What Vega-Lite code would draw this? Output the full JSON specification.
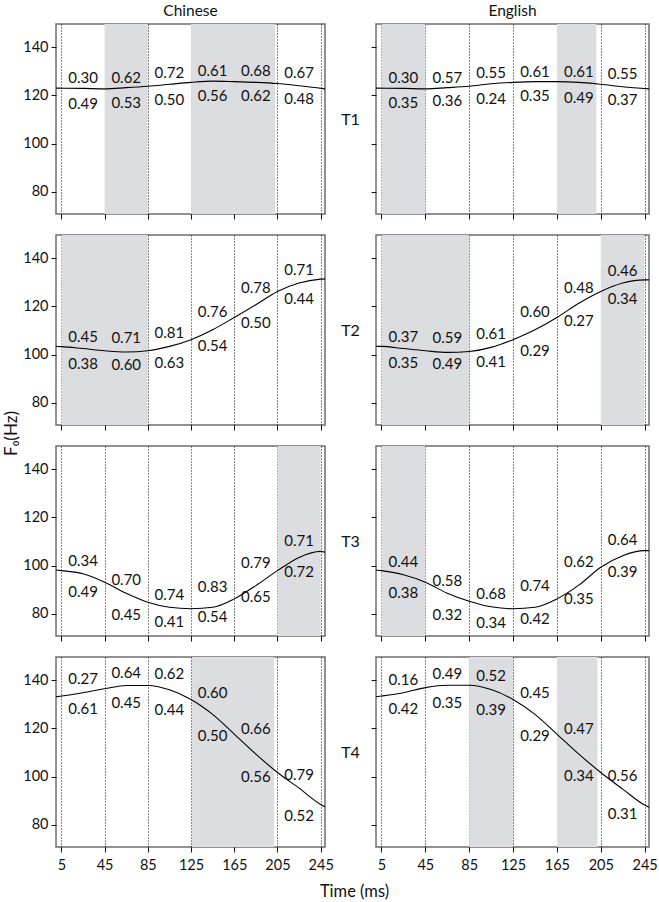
{
  "$schema": "https://vega.github.io/schema/vega-lite/v6.json",
  "padding": {"left": 1, "top": 2, "right": 0, "bottom": 0},
  "datasets": {
    "all": [
      {"kind":"c","lang":"Chinese","tone":"T1","t":0,"f0":123.0},
      {"kind":"c","lang":"Chinese","tone":"T1","t":25,"f0":122.9},
      {"kind":"c","lang":"Chinese","tone":"T1","t":45,"f0":122.7},
      {"kind":"c","lang":"Chinese","tone":"T1","t":65,"f0":123.2},
      {"kind":"c","lang":"Chinese","tone":"T1","t":85,"f0":123.8},
      {"kind":"c","lang":"Chinese","tone":"T1","t":105,"f0":124.6},
      {"kind":"c","lang":"Chinese","tone":"T1","t":125,"f0":125.4},
      {"kind":"c","lang":"Chinese","tone":"T1","t":145,"f0":125.9},
      {"kind":"c","lang":"Chinese","tone":"T1","t":165,"f0":125.7},
      {"kind":"c","lang":"Chinese","tone":"T1","t":185,"f0":125.4},
      {"kind":"c","lang":"Chinese","tone":"T1","t":205,"f0":124.9},
      {"kind":"c","lang":"Chinese","tone":"T1","t":225,"f0":124.0},
      {"kind":"c","lang":"Chinese","tone":"T1","t":249,"f0":122.7},

      {"kind":"c","lang":"English","tone":"T1","t":0,"f0":123.0},
      {"kind":"c","lang":"English","tone":"T1","t":25,"f0":122.9},
      {"kind":"c","lang":"English","tone":"T1","t":45,"f0":122.7},
      {"kind":"c","lang":"English","tone":"T1","t":65,"f0":123.2},
      {"kind":"c","lang":"English","tone":"T1","t":85,"f0":123.8},
      {"kind":"c","lang":"English","tone":"T1","t":105,"f0":124.8},
      {"kind":"c","lang":"English","tone":"T1","t":125,"f0":125.4},
      {"kind":"c","lang":"English","tone":"T1","t":145,"f0":125.7},
      {"kind":"c","lang":"English","tone":"T1","t":165,"f0":125.7},
      {"kind":"c","lang":"English","tone":"T1","t":185,"f0":125.4},
      {"kind":"c","lang":"English","tone":"T1","t":205,"f0":124.6},
      {"kind":"c","lang":"English","tone":"T1","t":225,"f0":123.6},
      {"kind":"c","lang":"English","tone":"T1","t":249,"f0":122.7},

      {"kind":"c","lang":"Chinese","tone":"T2","t":0,"f0":103.4},
      {"kind":"c","lang":"Chinese","tone":"T2","t":5,"f0":103.3},
      {"kind":"c","lang":"Chinese","tone":"T2","t":25,"f0":102.5},
      {"kind":"c","lang":"Chinese","tone":"T2","t":45,"f0":101.6},
      {"kind":"c","lang":"Chinese","tone":"T2","t":65,"f0":101.1},
      {"kind":"c","lang":"Chinese","tone":"T2","t":85,"f0":101.6},
      {"kind":"c","lang":"Chinese","tone":"T2","t":105,"f0":103.4},
      {"kind":"c","lang":"Chinese","tone":"T2","t":125,"f0":106.2},
      {"kind":"c","lang":"Chinese","tone":"T2","t":145,"f0":110.3},
      {"kind":"c","lang":"Chinese","tone":"T2","t":165,"f0":115.4},
      {"kind":"c","lang":"Chinese","tone":"T2","t":185,"f0":120.7},
      {"kind":"c","lang":"Chinese","tone":"T2","t":205,"f0":126.2},
      {"kind":"c","lang":"Chinese","tone":"T2","t":225,"f0":129.7},
      {"kind":"c","lang":"Chinese","tone":"T2","t":245,"f0":131.3},
      {"kind":"c","lang":"Chinese","tone":"T2","t":249,"f0":131.4},

      {"kind":"c","lang":"English","tone":"T2","t":0,"f0":103.4},
      {"kind":"c","lang":"English","tone":"T2","t":5,"f0":103.4},
      {"kind":"c","lang":"English","tone":"T2","t":25,"f0":102.5},
      {"kind":"c","lang":"English","tone":"T2","t":45,"f0":101.6},
      {"kind":"c","lang":"English","tone":"T2","t":65,"f0":100.9},
      {"kind":"c","lang":"English","tone":"T2","t":85,"f0":101.3},
      {"kind":"c","lang":"English","tone":"T2","t":105,"f0":103.0},
      {"kind":"c","lang":"English","tone":"T2","t":125,"f0":106.2},
      {"kind":"c","lang":"English","tone":"T2","t":145,"f0":110.3},
      {"kind":"c","lang":"English","tone":"T2","t":165,"f0":115.4},
      {"kind":"c","lang":"English","tone":"T2","t":185,"f0":121.3},
      {"kind":"c","lang":"English","tone":"T2","t":205,"f0":126.2},
      {"kind":"c","lang":"English","tone":"T2","t":225,"f0":129.7},
      {"kind":"c","lang":"English","tone":"T2","t":245,"f0":131.0},
      {"kind":"c","lang":"English","tone":"T2","t":249,"f0":131.0},

      {"kind":"c","lang":"Chinese","tone":"T3","t":0,"f0":98.2},
      {"kind":"c","lang":"Chinese","tone":"T3","t":5,"f0":97.9},
      {"kind":"c","lang":"Chinese","tone":"T3","t":25,"f0":96.6},
      {"kind":"c","lang":"Chinese","tone":"T3","t":45,"f0":93.1},
      {"kind":"c","lang":"Chinese","tone":"T3","t":65,"f0":88.5},
      {"kind":"c","lang":"Chinese","tone":"T3","t":85,"f0":84.8},
      {"kind":"c","lang":"Chinese","tone":"T3","t":105,"f0":82.7},
      {"kind":"c","lang":"Chinese","tone":"T3","t":125,"f0":82.1},
      {"kind":"c","lang":"Chinese","tone":"T3","t":145,"f0":82.7},
      {"kind":"c","lang":"Chinese","tone":"T3","t":165,"f0":86.2},
      {"kind":"c","lang":"Chinese","tone":"T3","t":185,"f0":91.7},
      {"kind":"c","lang":"Chinese","tone":"T3","t":205,"f0":97.9},
      {"kind":"c","lang":"Chinese","tone":"T3","t":225,"f0":103.4},
      {"kind":"c","lang":"Chinese","tone":"T3","t":245,"f0":105.9},
      {"kind":"c","lang":"Chinese","tone":"T3","t":249,"f0":105.5},

      {"kind":"c","lang":"English","tone":"T3","t":0,"f0":98.2},
      {"kind":"c","lang":"English","tone":"T3","t":5,"f0":97.9},
      {"kind":"c","lang":"English","tone":"T3","t":25,"f0":96.2},
      {"kind":"c","lang":"English","tone":"T3","t":45,"f0":93.1},
      {"kind":"c","lang":"English","tone":"T3","t":65,"f0":88.5},
      {"kind":"c","lang":"English","tone":"T3","t":85,"f0":85.2},
      {"kind":"c","lang":"English","tone":"T3","t":105,"f0":82.9},
      {"kind":"c","lang":"English","tone":"T3","t":125,"f0":82.1},
      {"kind":"c","lang":"English","tone":"T3","t":145,"f0":82.7},
      {"kind":"c","lang":"English","tone":"T3","t":165,"f0":86.2},
      {"kind":"c","lang":"English","tone":"T3","t":185,"f0":91.9},
      {"kind":"c","lang":"English","tone":"T3","t":205,"f0":99.3},
      {"kind":"c","lang":"English","tone":"T3","t":225,"f0":104.1},
      {"kind":"c","lang":"English","tone":"T3","t":245,"f0":106.2},
      {"kind":"c","lang":"English","tone":"T3","t":249,"f0":106.2},

      {"kind":"c","lang":"Chinese","tone":"T4","t":0,"f0":133.1},
      {"kind":"c","lang":"Chinese","tone":"T4","t":5,"f0":133.4},
      {"kind":"c","lang":"Chinese","tone":"T4","t":25,"f0":134.8},
      {"kind":"c","lang":"Chinese","tone":"T4","t":45,"f0":136.4},
      {"kind":"c","lang":"Chinese","tone":"T4","t":65,"f0":137.8},
      {"kind":"c","lang":"Chinese","tone":"T4","t":85,"f0":137.8},
      {"kind":"c","lang":"Chinese","tone":"T4","t":105,"f0":136.0},
      {"kind":"c","lang":"Chinese","tone":"T4","t":125,"f0":132.0},
      {"kind":"c","lang":"Chinese","tone":"T4","t":145,"f0":125.8},
      {"kind":"c","lang":"Chinese","tone":"T4","t":165,"f0":117.6},
      {"kind":"c","lang":"Chinese","tone":"T4","t":185,"f0":109.3},
      {"kind":"c","lang":"Chinese","tone":"T4","t":205,"f0":101.7},
      {"kind":"c","lang":"Chinese","tone":"T4","t":225,"f0":95.2},
      {"kind":"c","lang":"Chinese","tone":"T4","t":245,"f0":88.4},
      {"kind":"c","lang":"Chinese","tone":"T4","t":249,"f0":87.4},

      {"kind":"c","lang":"English","tone":"T4","t":0,"f0":133.1},
      {"kind":"c","lang":"English","tone":"T4","t":5,"f0":133.4},
      {"kind":"c","lang":"English","tone":"T4","t":25,"f0":134.8},
      {"kind":"c","lang":"English","tone":"T4","t":45,"f0":136.9},
      {"kind":"c","lang":"English","tone":"T4","t":65,"f0":137.9},
      {"kind":"c","lang":"English","tone":"T4","t":85,"f0":137.9},
      {"kind":"c","lang":"English","tone":"T4","t":105,"f0":136.1},
      {"kind":"c","lang":"English","tone":"T4","t":125,"f0":132.0},
      {"kind":"c","lang":"English","tone":"T4","t":145,"f0":125.8},
      {"kind":"c","lang":"English","tone":"T4","t":165,"f0":117.6},
      {"kind":"c","lang":"English","tone":"T4","t":185,"f0":109.3},
      {"kind":"c","lang":"English","tone":"T4","t":205,"f0":101.7},
      {"kind":"c","lang":"English","tone":"T4","t":225,"f0":94.8},
      {"kind":"c","lang":"English","tone":"T4","t":245,"f0":88.2},
      {"kind":"c","lang":"English","tone":"T4","t":249,"f0":87.3},

      {"kind":"l","lang":"Chinese","tone":"T1","t":25,"f0":127.4,"label":"0.30"},
      {"kind":"l","lang":"Chinese","tone":"T1","t":65,"f0":127.4,"label":"0.62"},
      {"kind":"l","lang":"Chinese","tone":"T1","t":105,"f0":129.3,"label":"0.72"},
      {"kind":"l","lang":"Chinese","tone":"T1","t":145,"f0":130.3,"label":"0.61"},
      {"kind":"l","lang":"Chinese","tone":"T1","t":185,"f0":130.3,"label":"0.68"},
      {"kind":"l","lang":"Chinese","tone":"T1","t":225,"f0":129.3,"label":"0.67"},
      {"kind":"l","lang":"Chinese","tone":"T1","t":25,"f0":116.3,"label":"0.49"},
      {"kind":"l","lang":"Chinese","tone":"T1","t":65,"f0":116.7,"label":"0.53"},
      {"kind":"l","lang":"Chinese","tone":"T1","t":105,"f0":118.2,"label":"0.50"},
      {"kind":"l","lang":"Chinese","tone":"T1","t":145,"f0":119.9,"label":"0.56"},
      {"kind":"l","lang":"Chinese","tone":"T1","t":185,"f0":119.6,"label":"0.62"},
      {"kind":"l","lang":"Chinese","tone":"T1","t":225,"f0":118.5,"label":"0.48"},

      {"kind":"l","lang":"English","tone":"T1","t":25,"f0":127.2,"label":"0.30"},
      {"kind":"l","lang":"English","tone":"T1","t":65,"f0":127.2,"label":"0.57"},
      {"kind":"l","lang":"English","tone":"T1","t":105,"f0":129.3,"label":"0.55"},
      {"kind":"l","lang":"English","tone":"T1","t":145,"f0":129.9,"label":"0.61"},
      {"kind":"l","lang":"English","tone":"T1","t":185,"f0":129.6,"label":"0.61"},
      {"kind":"l","lang":"English","tone":"T1","t":225,"f0":129.0,"label":"0.55"},
      {"kind":"l","lang":"English","tone":"T1","t":25,"f0":116.9,"label":"0.35"},
      {"kind":"l","lang":"English","tone":"T1","t":65,"f0":117.8,"label":"0.36"},
      {"kind":"l","lang":"English","tone":"T1","t":105,"f0":118.5,"label":"0.24"},
      {"kind":"l","lang":"English","tone":"T1","t":145,"f0":119.9,"label":"0.35"},
      {"kind":"l","lang":"English","tone":"T1","t":185,"f0":118.9,"label":"0.49"},
      {"kind":"l","lang":"English","tone":"T1","t":225,"f0":118.2,"label":"0.37"},

      {"kind":"l","lang":"Chinese","tone":"T2","t":25,"f0":107.3,"label":"0.45"},
      {"kind":"l","lang":"Chinese","tone":"T2","t":65,"f0":106.9,"label":"0.71"},
      {"kind":"l","lang":"Chinese","tone":"T2","t":105,"f0":109.0,"label":"0.81"},
      {"kind":"l","lang":"Chinese","tone":"T2","t":145,"f0":117.5,"label":"0.76"},
      {"kind":"l","lang":"Chinese","tone":"T2","t":185,"f0":127.6,"label":"0.78"},
      {"kind":"l","lang":"Chinese","tone":"T2","t":225,"f0":134.9,"label":"0.71"},
      {"kind":"l","lang":"Chinese","tone":"T2","t":25,"f0":95.9,"label":"0.38"},
      {"kind":"l","lang":"Chinese","tone":"T2","t":65,"f0":95.6,"label":"0.60"},
      {"kind":"l","lang":"Chinese","tone":"T2","t":105,"f0":96.6,"label":"0.63"},
      {"kind":"l","lang":"Chinese","tone":"T2","t":145,"f0":103.7,"label":"0.54"},
      {"kind":"l","lang":"Chinese","tone":"T2","t":185,"f0":113.1,"label":"0.50"},
      {"kind":"l","lang":"Chinese","tone":"T2","t":225,"f0":123.2,"label":"0.44"},

      {"kind":"l","lang":"English","tone":"T2","t":25,"f0":107.3,"label":"0.37"},
      {"kind":"l","lang":"English","tone":"T2","t":65,"f0":106.7,"label":"0.59"},
      {"kind":"l","lang":"English","tone":"T2","t":105,"f0":108.7,"label":"0.61"},
      {"kind":"l","lang":"English","tone":"T2","t":145,"f0":117.7,"label":"0.60"},
      {"kind":"l","lang":"English","tone":"T2","t":185,"f0":127.6,"label":"0.48"},
      {"kind":"l","lang":"English","tone":"T2","t":225,"f0":134.7,"label":"0.46"},
      {"kind":"l","lang":"English","tone":"T2","t":25,"f0":96.6,"label":"0.35"},
      {"kind":"l","lang":"English","tone":"T2","t":65,"f0":95.9,"label":"0.49"},
      {"kind":"l","lang":"English","tone":"T2","t":105,"f0":96.8,"label":"0.41"},
      {"kind":"l","lang":"English","tone":"T2","t":145,"f0":101.4,"label":"0.29"},
      {"kind":"l","lang":"English","tone":"T2","t":185,"f0":113.8,"label":"0.27"},
      {"kind":"l","lang":"English","tone":"T2","t":225,"f0":123.2,"label":"0.34"},

      {"kind":"l","lang":"Chinese","tone":"T3","t":25,"f0":102.1,"label":"0.34"},
      {"kind":"l","lang":"Chinese","tone":"T3","t":65,"f0":94.1,"label":"0.70"},
      {"kind":"l","lang":"Chinese","tone":"T3","t":105,"f0":88.0,"label":"0.74"},
      {"kind":"l","lang":"Chinese","tone":"T3","t":145,"f0":91.3,"label":"0.83"},
      {"kind":"l","lang":"Chinese","tone":"T3","t":185,"f0":100.9,"label":"0.79"},
      {"kind":"l","lang":"Chinese","tone":"T3","t":225,"f0":110.3,"label":"0.71"},
      {"kind":"l","lang":"Chinese","tone":"T3","t":25,"f0":89.0,"label":"0.49"},
      {"kind":"l","lang":"Chinese","tone":"T3","t":65,"f0":79.7,"label":"0.45"},
      {"kind":"l","lang":"Chinese","tone":"T3","t":105,"f0":76.5,"label":"0.41"},
      {"kind":"l","lang":"Chinese","tone":"T3","t":145,"f0":78.6,"label":"0.54"},
      {"kind":"l","lang":"Chinese","tone":"T3","t":185,"f0":86.9,"label":"0.65"},
      {"kind":"l","lang":"Chinese","tone":"T3","t":225,"f0":97.2,"label":"0.72"},

      {"kind":"l","lang":"English","tone":"T3","t":25,"f0":101.4,"label":"0.44"},
      {"kind":"l","lang":"English","tone":"T3","t":65,"f0":93.8,"label":"0.58"},
      {"kind":"l","lang":"English","tone":"T3","t":105,"f0":88.3,"label":"0.68"},
      {"kind":"l","lang":"English","tone":"T3","t":145,"f0":91.4,"label":"0.74"},
      {"kind":"l","lang":"English","tone":"T3","t":185,"f0":101.4,"label":"0.62"},
      {"kind":"l","lang":"English","tone":"T3","t":225,"f0":110.6,"label":"0.64"},
      {"kind":"l","lang":"English","tone":"T3","t":25,"f0":88.7,"label":"0.38"},
      {"kind":"l","lang":"English","tone":"T3","t":65,"f0":79.7,"label":"0.32"},
      {"kind":"l","lang":"English","tone":"T3","t":105,"f0":76.3,"label":"0.34"},
      {"kind":"l","lang":"English","tone":"T3","t":145,"f0":77.9,"label":"0.42"},
      {"kind":"l","lang":"English","tone":"T3","t":185,"f0":86.2,"label":"0.35"},
      {"kind":"l","lang":"English","tone":"T3","t":225,"f0":97.2,"label":"0.39"},

      {"kind":"l","lang":"Chinese","tone":"T4","t":25,"f0":140.3,"label":"0.27"},
      {"kind":"l","lang":"Chinese","tone":"T4","t":65,"f0":143.0,"label":"0.64"},
      {"kind":"l","lang":"Chinese","tone":"T4","t":105,"f0":142.4,"label":"0.62"},
      {"kind":"l","lang":"Chinese","tone":"T4","t":145,"f0":134.8,"label":"0.60"},
      {"kind":"l","lang":"Chinese","tone":"T4","t":185,"f0":119.6,"label":"0.66"},
      {"kind":"l","lang":"Chinese","tone":"T4","t":225,"f0":100.6,"label":"0.79"},
      {"kind":"l","lang":"Chinese","tone":"T4","t":25,"f0":128.2,"label":"0.61"},
      {"kind":"l","lang":"Chinese","tone":"T4","t":65,"f0":130.7,"label":"0.45"},
      {"kind":"l","lang":"Chinese","tone":"T4","t":105,"f0":127.5,"label":"0.44"},
      {"kind":"l","lang":"Chinese","tone":"T4","t":145,"f0":116.9,"label":"0.50"},
      {"kind":"l","lang":"Chinese","tone":"T4","t":185,"f0":99.7,"label":"0.56"},
      {"kind":"l","lang":"Chinese","tone":"T4","t":225,"f0":83.8,"label":"0.52"},

      {"kind":"l","lang":"English","tone":"T4","t":25,"f0":140.0,"label":"0.16"},
      {"kind":"l","lang":"English","tone":"T4","t":65,"f0":142.6,"label":"0.49"},
      {"kind":"l","lang":"English","tone":"T4","t":105,"f0":141.7,"label":"0.52"},
      {"kind":"l","lang":"English","tone":"T4","t":145,"f0":134.8,"label":"0.45"},
      {"kind":"l","lang":"English","tone":"T4","t":185,"f0":119.6,"label":"0.47"},
      {"kind":"l","lang":"English","tone":"T4","t":225,"f0":100.3,"label":"0.56"},
      {"kind":"l","lang":"English","tone":"T4","t":25,"f0":127.9,"label":"0.42"},
      {"kind":"l","lang":"English","tone":"T4","t":65,"f0":130.7,"label":"0.35"},
      {"kind":"l","lang":"English","tone":"T4","t":105,"f0":127.6,"label":"0.39"},
      {"kind":"l","lang":"English","tone":"T4","t":145,"f0":116.9,"label":"0.29"},
      {"kind":"l","lang":"English","tone":"T4","t":185,"f0":100.1,"label":"0.34"},
      {"kind":"l","lang":"English","tone":"T4","t":225,"f0":84.5,"label":"0.31"},

      {"kind":"s","lang":"Chinese","tone":"T1","t":45,"t2":85},
      {"kind":"s","lang":"Chinese","tone":"T1","t":125,"t2":203},
      {"kind":"s","lang":"English","tone":"T1","t":5,"t2":45},
      {"kind":"s","lang":"English","tone":"T1","t":165,"t2":201},
      {"kind":"s","lang":"Chinese","tone":"T2","t":5,"t2":85},
      {"kind":"s","lang":"English","tone":"T2","t":5,"t2":85},
      {"kind":"s","lang":"English","tone":"T2","t":205,"t2":245},
      {"kind":"s","lang":"Chinese","tone":"T3","t":205,"t2":245},
      {"kind":"s","lang":"English","tone":"T3","t":5,"t2":45},
      {"kind":"s","lang":"Chinese","tone":"T4","t":126,"t2":202},
      {"kind":"s","lang":"English","tone":"T4","t":85,"t2":125},
      {"kind":"s","lang":"English","tone":"T4","t":165,"t2":202}
    ]
  },
  "data": {"name": "all"},
  "columns": 2,
  "spacing": {"row": 21, "column": 51},
  "bounds": "flush",
  "concat": [
    {
      "width": 269, "height": 190,
      "title": {"text": "Chinese"},
      "transform": [{"filter": "datum.lang === 'Chinese' && datum.tone === 'T1'"}],
      "encoding": {"x": {"field": "t", "type": "quantitative", "scale": {"domain": [0, 249], "nice": false, "zero": false}, "axis": {"values": [5,45,85,125,165,205,245], "labels": false, "title": null}}},
      "layer": [
        {"transform": [{"filter": "datum.kind === 's'"}], "mark": {"type": "rect", "fill": "#dcdde0"}, "encoding": {"x2": {"field": "t2"}}},
        {"transform": [{"filter": "datum.kind === 'c'"}], "mark": {"type": "line", "color": "black", "strokeWidth": 1.1, "interpolate": "monotone"}, "encoding": {"y": {"field": "f0", "type": "quantitative", "scale": {"domain": [70.8, 149.6], "nice": false, "zero": false}, "axis": {"values": [80,100,120,140], "title": null}}}},
        {"transform": [{"filter": "datum.kind === 'l'"}], "mark": {"type": "text", "fontSize": 15, "color": "#111"}, "encoding": {"y": {"field": "f0", "type": "quantitative"}, "text": {"field": "label"}}}
      ]
    },
    {
      "width": 273, "height": 190,
      "title": {"text": "English"},
      "transform": [{"filter": "datum.lang === 'English' && datum.tone === 'T1'"}],
      "encoding": {"x": {"field": "t", "type": "quantitative", "scale": {"domain": [0, 249], "nice": false, "zero": false}, "axis": {"values": [5,45,85,125,165,205,245], "labels": false, "title": null}}},
      "layer": [
        {"transform": [{"filter": "datum.kind === 's'"}], "mark": {"type": "rect", "fill": "#dcdde0"}, "encoding": {"x2": {"field": "t2"}}},
        {"transform": [{"filter": "datum.kind === 'c'"}], "mark": {"type": "line", "color": "black", "strokeWidth": 1.1, "interpolate": "monotone"}, "encoding": {"y": {"field": "f0", "type": "quantitative", "scale": {"domain": [70.8, 149.6], "nice": false, "zero": false}, "axis": {"values": [80,100,120,140], "labels": false, "title": "T1", "titleFontSize": 16, "titleAngle": 0, "titleX": -26, "titleY": 95, "titleAlign": "center", "titleBaseline": "middle"}}}},
        {"transform": [{"filter": "datum.kind === 'l'"}], "mark": {"type": "text", "fontSize": 15, "color": "#111"}, "encoding": {"y": {"field": "f0", "type": "quantitative"}, "text": {"field": "label"}}}
      ]
    },
    {
      "width": 269, "height": 190,
      "transform": [{"filter": "datum.lang === 'Chinese' && datum.tone === 'T2'"}],
      "encoding": {"x": {"field": "t", "type": "quantitative", "scale": {"domain": [0, 249], "nice": false, "zero": false}, "axis": {"values": [5,45,85,125,165,205,245], "labels": false, "title": null}}},
      "layer": [
        {"transform": [{"filter": "datum.kind === 's'"}], "mark": {"type": "rect", "fill": "#dcdde0"}, "encoding": {"x2": {"field": "t2"}}},
        {"transform": [{"filter": "datum.kind === 'c'"}], "mark": {"type": "line", "color": "black", "strokeWidth": 1.1, "interpolate": "monotone"}, "encoding": {"y": {"field": "f0", "type": "quantitative", "scale": {"domain": [70.8, 149.6], "nice": false, "zero": false}, "axis": {"values": [80,100,120,140], "title": "F₀(Hz)", "titleFontSize": 17, "titleX": -45, "titleY": 198, "titleAlign": "center", "titleBaseline": "middle"}}}},
        {"transform": [{"filter": "datum.kind === 'l'"}], "mark": {"type": "text", "fontSize": 15, "color": "#111"}, "encoding": {"y": {"field": "f0", "type": "quantitative"}, "text": {"field": "label"}}}
      ]
    },
    {
      "width": 273, "height": 190,
      "transform": [{"filter": "datum.lang === 'English' && datum.tone === 'T2'"}],
      "encoding": {"x": {"field": "t", "type": "quantitative", "scale": {"domain": [0, 249], "nice": false, "zero": false}, "axis": {"values": [5,45,85,125,165,205,245], "labels": false, "title": null}}},
      "layer": [
        {"transform": [{"filter": "datum.kind === 's'"}], "mark": {"type": "rect", "fill": "#dcdde0"}, "encoding": {"x2": {"field": "t2"}}},
        {"transform": [{"filter": "datum.kind === 'c'"}], "mark": {"type": "line", "color": "black", "strokeWidth": 1.1, "interpolate": "monotone"}, "encoding": {"y": {"field": "f0", "type": "quantitative", "scale": {"domain": [70.8, 149.6], "nice": false, "zero": false}, "axis": {"values": [80,100,120,140], "labels": false, "title": "T2", "titleFontSize": 16, "titleAngle": 0, "titleX": -26, "titleY": 95, "titleAlign": "center", "titleBaseline": "middle"}}}},
        {"transform": [{"filter": "datum.kind === 'l'"}], "mark": {"type": "text", "fontSize": 15, "color": "#111"}, "encoding": {"y": {"field": "f0", "type": "quantitative"}, "text": {"field": "label"}}}
      ]
    },
    {
      "width": 269, "height": 190,
      "transform": [{"filter": "datum.lang === 'Chinese' && datum.tone === 'T3'"}],
      "encoding": {"x": {"field": "t", "type": "quantitative", "scale": {"domain": [0, 249], "nice": false, "zero": false}, "axis": {"values": [5,45,85,125,165,205,245], "labels": false, "title": null}}},
      "layer": [
        {"transform": [{"filter": "datum.kind === 's'"}], "mark": {"type": "rect", "fill": "#dcdde0"}, "encoding": {"x2": {"field": "t2"}}},
        {"transform": [{"filter": "datum.kind === 'c'"}], "mark": {"type": "line", "color": "black", "strokeWidth": 1.1, "interpolate": "monotone"}, "encoding": {"y": {"field": "f0", "type": "quantitative", "scale": {"domain": [70.8, 149.6], "nice": false, "zero": false}, "axis": {"values": [80,100,120,140], "title": null}}}},
        {"transform": [{"filter": "datum.kind === 'l'"}], "mark": {"type": "text", "fontSize": 15, "color": "#111"}, "encoding": {"y": {"field": "f0", "type": "quantitative"}, "text": {"field": "label"}}}
      ]
    },
    {
      "width": 273, "height": 190,
      "transform": [{"filter": "datum.lang === 'English' && datum.tone === 'T3'"}],
      "encoding": {"x": {"field": "t", "type": "quantitative", "scale": {"domain": [0, 249], "nice": false, "zero": false}, "axis": {"values": [5,45,85,125,165,205,245], "labels": false, "title": null}}},
      "layer": [
        {"transform": [{"filter": "datum.kind === 's'"}], "mark": {"type": "rect", "fill": "#dcdde0"}, "encoding": {"x2": {"field": "t2"}}},
        {"transform": [{"filter": "datum.kind === 'c'"}], "mark": {"type": "line", "color": "black", "strokeWidth": 1.1, "interpolate": "monotone"}, "encoding": {"y": {"field": "f0", "type": "quantitative", "scale": {"domain": [70.8, 149.6], "nice": false, "zero": false}, "axis": {"values": [80,100,120,140], "labels": false, "title": "T3", "titleFontSize": 16, "titleAngle": 0, "titleX": -26, "titleY": 95, "titleAlign": "center", "titleBaseline": "middle"}}}},
        {"transform": [{"filter": "datum.kind === 'l'"}], "mark": {"type": "text", "fontSize": 15, "color": "#111"}, "encoding": {"y": {"field": "f0", "type": "quantitative"}, "text": {"field": "label"}}}
      ]
    },
    {
      "width": 269, "height": 190,
      "transform": [{"filter": "datum.lang === 'Chinese' && datum.tone === 'T4'"}],
      "encoding": {"x": {"field": "t", "type": "quantitative", "scale": {"domain": [0, 249], "nice": false, "zero": false}, "axis": {"values": [5,45,85,125,165,205,245], "title": "Time (ms)", "titleFontSize": 16.5, "titleX": 298, "titleY": 44, "titleAlign": "center", "titleBaseline": "middle"}}},
      "layer": [
        {"transform": [{"filter": "datum.kind === 's'"}], "mark": {"type": "rect", "fill": "#dcdde0"}, "encoding": {"x2": {"field": "t2"}}},
        {"transform": [{"filter": "datum.kind === 'c'"}], "mark": {"type": "line", "color": "black", "strokeWidth": 1.1, "interpolate": "monotone"}, "encoding": {"y": {"field": "f0", "type": "quantitative", "scale": {"domain": [70.8, 149.6], "nice": false, "zero": false}, "axis": {"values": [80,100,120,140], "title": null}}}},
        {"transform": [{"filter": "datum.kind === 'l'"}], "mark": {"type": "text", "fontSize": 15, "color": "#111"}, "encoding": {"y": {"field": "f0", "type": "quantitative"}, "text": {"field": "label"}}}
      ]
    },
    {
      "width": 273, "height": 190,
      "transform": [{"filter": "datum.lang === 'English' && datum.tone === 'T4'"}],
      "encoding": {"x": {"field": "t", "type": "quantitative", "scale": {"domain": [0, 249], "nice": false, "zero": false}, "axis": {"values": [5,45,85,125,165,205,245], "title": null}}},
      "layer": [
        {"transform": [{"filter": "datum.kind === 's'"}], "mark": {"type": "rect", "fill": "#dcdde0"}, "encoding": {"x2": {"field": "t2"}}},
        {"transform": [{"filter": "datum.kind === 'c'"}], "mark": {"type": "line", "color": "black", "strokeWidth": 1.1, "interpolate": "monotone"}, "encoding": {"y": {"field": "f0", "type": "quantitative", "scale": {"domain": [70.8, 149.6], "nice": false, "zero": false}, "axis": {"values": [80,100,120,140], "labels": false, "title": "T4", "titleFontSize": 16, "titleAngle": 0, "titleX": -26, "titleY": 95, "titleAlign": "center", "titleBaseline": "middle"}}}},
        {"transform": [{"filter": "datum.kind === 'l'"}], "mark": {"type": "text", "fontSize": 15, "color": "#111"}, "encoding": {"y": {"field": "f0", "type": "quantitative"}, "text": {"field": "label"}}}
      ]
    }
  ],
  "config": {
    "font": "Lato",
    "view": {"stroke": "#6e6e6e", "strokeWidth": 1.5},
    "axis": {"domain": false, "tickColor": "#111", "tickSize": 5, "tickWidth": 1, "labelFontSize": 14.5, "labelColor": "#111", "titleFontSize": 14, "titleFontWeight": "normal", "titleColor": "#111", "grid": false},
    "axisX": {"grid": true, "gridColor": "#111", "gridDash": [1, 2], "gridWidth": 1, "gridOpacity": 1, "zindex": 1, "labelPadding": 6},
    "axisY": {"labelPadding": 3},
    "title": {"fontSize": 15.5, "fontWeight": "normal", "color": "#111", "offset": 5}
  }
}
